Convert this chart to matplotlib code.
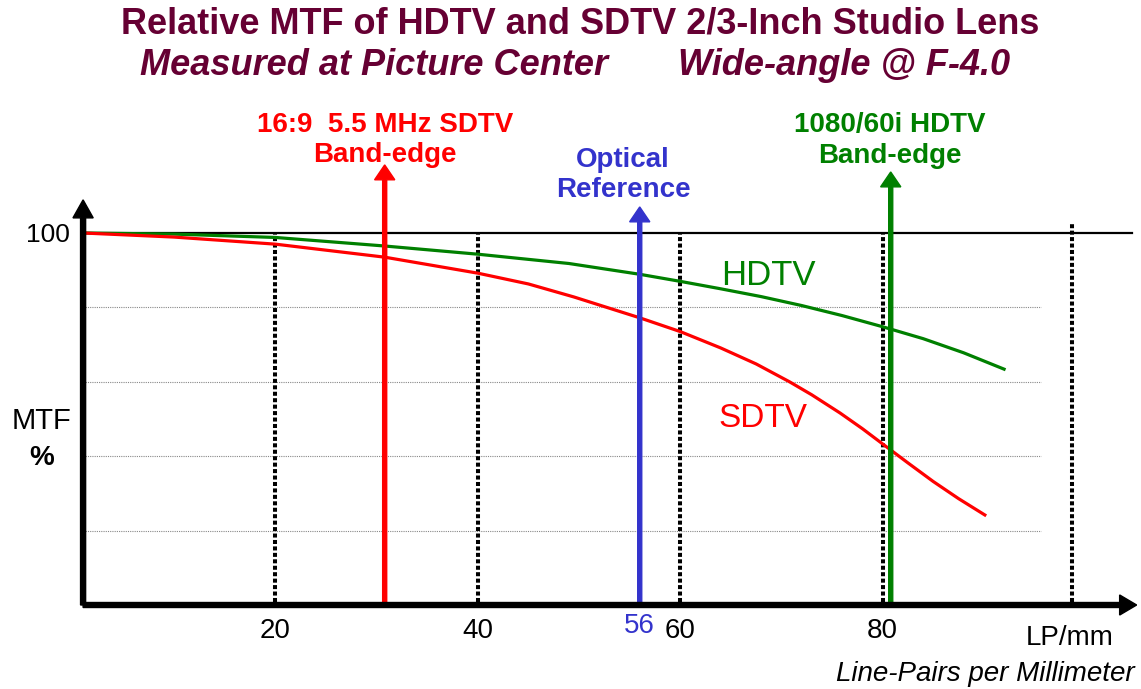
import matplotlib
matplotlib.use("Agg")
import matplotlib.pyplot as plt

plt.rcParams['font.family'] = ['Liberation Sans', 'DejaVu Sans']

# curves (LP/mm, MTF %)
lp_hdtv = [1, 10, 20, 30.8, 40, 49, 56, 60, 64, 68, 72, 76, 80, 84, 88, 92]
mtf_hdtv = [100, 99.7, 98.8, 96.5, 94.3, 91.8, 88.9, 87.0, 85.0, 82.9, 80.5, 77.8, 74.8, 71.6, 67.8, 63.4]
lp_sdtv = [1, 10, 20, 30.8, 40, 45, 49.5, 56, 60, 64, 67.5, 70.8, 73, 75.8, 78, 80, 82.5, 85, 87.5, 90.1]
mtf_sdtv = [100, 98.9, 97, 93.5, 89.2, 86.3, 82.8, 77.2, 73.5, 69.1, 64.8, 60, 56.5, 51.6, 47.4, 43.3, 38.2, 33.2, 28.6, 24.2]

x_ticks = [20, 40, 60, 80]
x_grid = [20, 40, 60, 80, 98.7]
y_grid = [20, 40, 60, 80]
sdtv_edge = 30.8
optical_ref = 56
hdtv_edge = 80.8

RED = '#ff0000'
GREEN = '#008000'
BLUE = '#3333cc'
MAROON = '#660033'

W, H = 1141, 689
fig = plt.figure(figsize=(W / 100, H / 100), dpi=100)
ax = fig.add_axes([0, 0, 1, 1])
ax.set_xlim(-7.21, 105.53)
ax.set_ylim(-22.58, 162.63)
ax.axis('off')


def put(x, y, s, **kw):
    fig.text(x / W, 1 - y / H, s, va='baseline', **kw)


# grid
ax.hlines(y_grid, 1, 95.6, colors='#888888', lw=0.8, linestyles=(0, (1, 1)), zorder=1)
for i, gx in enumerate(x_grid):
    top = 102.7 if i == len(x_grid) - 1 else 100
    ax.plot([gx, gx], [0.8, top], color='black', lw=2.9,
            linestyle=(0, (1, 0.6)), dash_capstyle='butt', zorder=2)
ax.plot([1, 104.6], [100, 100], color='black', lw=1.6, zorder=2)

# curves
ax.plot(lp_hdtv, mtf_hdtv, color=GREEN, lw=2.3, zorder=3)
ax.plot(lp_sdtv, mtf_sdtv, color=RED, lw=2.3, zorder=3)

# axes arrows
ax.arrow(1, 0, 0, 108.9, width=0.5, head_width=2.0, head_length=4.84,
         length_includes_head=True, color='black', zorder=5)
ax.arrow(1, 0, 104.1, 0, width=1.34, head_width=5.4, head_length=1.68,
         length_includes_head=True, color='black', zorder=5)

# band-edge markers
ax.arrow(sdtv_edge, 0, 0, 118.3, width=0.4, head_width=2.0, head_length=4.0,
         length_includes_head=True, color=RED, zorder=4)
ax.arrow(optical_ref, 0, 0, 107.0, width=0.4, head_width=2.0, head_length=4.0,
         length_includes_head=True, color=BLUE, zorder=4)
ax.arrow(hdtv_edge, 0, 0, 116.4, width=0.4, head_width=2.0, head_length=4.0,
         length_includes_head=True, color=GREEN, zorder=4)

# tick labels
for v in x_ticks:
    ax.text(v, -8.9, str(v), ha='center', va='baseline', fontsize=20)
ax.text(optical_ref, -7.5, str(optical_ref), ha='center', va='baseline',
        fontsize=20, color=BLUE)

# titles
put(580, 33, 'Relative MTF of HDTV and SDTV 2/3-Inch Studio Lens',
    ha='center', fontsize=26, fontweight='bold', color=MAROON)
put(140, 75, 'Measured at Picture Center', ha='left', fontsize=26,
    fontweight='bold', fontstyle='italic', color=MAROON)
put(678, 75, 'Wide-angle @ F-4.0', ha='left', fontsize=26,
    fontweight='bold', fontstyle='italic', color=MAROON)

# marker labels
put(385, 132, '16:9  5.5 MHz SDTV', ha='center', fontsize=20, fontweight='bold', color=RED)
put(385, 162, 'Band-edge', ha='center', fontsize=20, fontweight='bold', color=RED)
put(623, 167, 'Optical', ha='center', fontsize=20, fontweight='bold', color=BLUE)
put(623, 197, 'Reference', ha='center', fontsize=20, fontweight='bold', color=BLUE)
put(890, 132, '1080/60i HDTV', ha='center', fontsize=20, fontweight='bold', color=GREEN)
put(890, 163, 'Band-edge', ha='center', fontsize=20, fontweight='bold', color=GREEN)

# curve labels
put(721, 285, 'HDTV', ha='left', fontsize=25, color=GREEN)
put(718, 427, 'SDTV', ha='left', fontsize=24, color=RED)

# axis labels
put(70, 242, '100', ha='right', fontsize=19)
put(42, 429, 'MTF', ha='center', fontsize=21)
put(42, 465, '%', ha='center', fontsize=20, fontweight='bold')
put(1114, 645, 'LP/mm', ha='right', fontsize=20)
put(1135, 681, 'Line-Pairs per Millimeter', ha='right', fontsize=20, fontstyle='italic')

fig.savefig('out.png', dpi=100)
